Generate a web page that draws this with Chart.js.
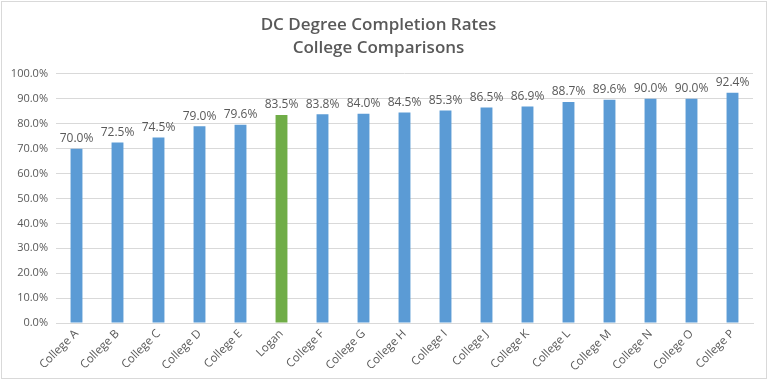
<!DOCTYPE html>
<html><head><meta charset="utf-8">
<script src="https://cdn.jsdelivr.net/npm/chart.js@4"></script>
<style>
html,body{margin:0;padding:0;background:#fff;}
#wrap{position:absolute;left:0;top:0;width:769px;height:381px;}
#frame{position:absolute;left:1px;top:1px;width:764px;height:376px;border:1px solid #d9d9d9;pointer-events:none;}
</style></head><body>
<div id="wrap"><canvas id="c" width="769" height="381"></canvas><div id="frame"></div></div>
<script>
const categories = ["College A","College B","College C","College D","College E","Logan","College F","College G","College H","College I","College J","College K","College L","College M","College N","College O","College P"];
const rates = [70.0,72.5,74.5,79.0,79.6,83.5,83.8,84.0,84.5,85.3,86.5,86.9,88.7,89.6,90.0,90.0,92.4];
const highlight = "Logan";
const titleLines = ["DC Degree Completion Rates","College Comparisons"];

const colors = categories.map(c => c === highlight ? "#70AD47" : "#5B9BD5");

const valueLabels = {
  id: 'valueLabels',
  afterDatasetsDraw(chart) {
    const ctx = chart.ctx;
    const meta = chart.getDatasetMeta(0);
    ctx.save();
    ctx.font = '12px "Open Sans", sans-serif';
    ctx.fillStyle = '#595959';
    ctx.textAlign = 'center';
    ctx.textBaseline = 'bottom';
    meta.data.forEach((bar, i) => {
      ctx.fillText(rates[i].toFixed(1) + '%', bar.x, bar.y - 4);
    });
    ctx.restore();
  }
};

Chart.defaults.font.family = '"Open Sans", sans-serif';
new Chart(document.getElementById('c'), {
  type: 'bar',
  data: {
    labels: categories,
    datasets: [{ data: rates, backgroundColor: colors, borderWidth: 0,
      barPercentage: 0.29, categoryPercentage: 1.0 }]
  },
  options: {
    responsive: false, animation: false,
    layout: { padding: { left: 4, right: 16, top: 10, bottom: 4 } },
    plugins: {
      legend: { display: false }, tooltip: { enabled: false },
      title: { display: true, text: titleLines, color: '#595959',
        font: { size: 17, weight: '600', family: '"Open Sans", sans-serif', lineHeight: 1.35 },
        padding: { top: 4, bottom: 14 } }
    },
    scales: {
      y: {
        min: 0, max: 100,
        ticks: { stepSize: 10, color: '#595959', font: { size: 11 }, padding: 8,
          callback: v => v.toFixed(1) + '%' },
        grid: { color: '#d9d9d9', drawTicks: false },
        border: { display: false },
        afterFit(s) { s.width = 52; }
      },
      x: {
        ticks: { color: '#595959', font: { size: 11.5 }, minRotation: 45, maxRotation: 45, padding: 4, autoSkip: false },
        grid: { display: false, drawTicks: false },
        border: { color: '#d9d9d9' },
        afterFit(s) { s.height = 54; }
      }
    }
  },
  plugins: [valueLabels]
});
</script>
</body></html>
